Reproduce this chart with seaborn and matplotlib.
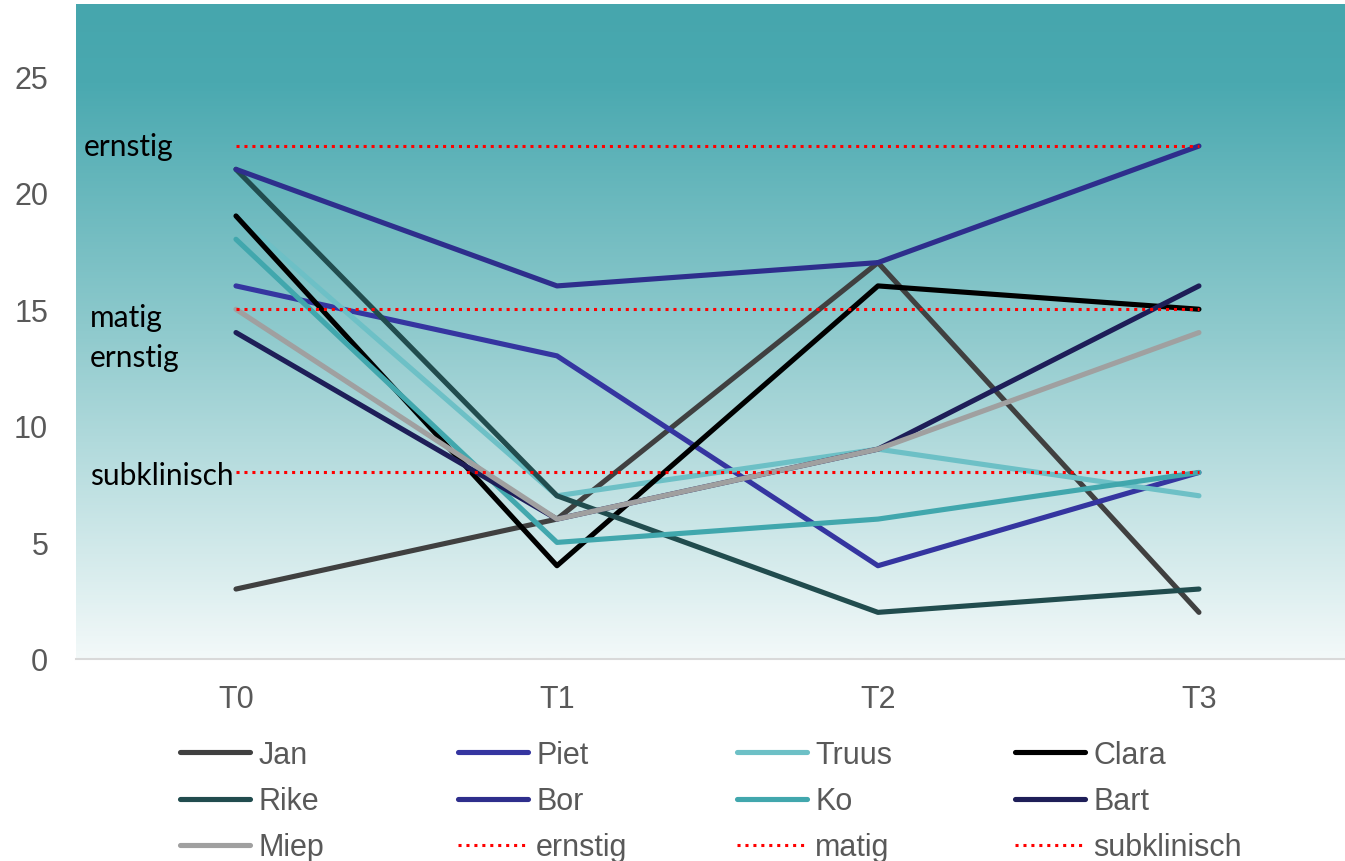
import numpy as np
import pandas as pd
import matplotlib
matplotlib.use("Agg")
import matplotlib.pyplot as plt
from matplotlib.colors import LinearSegmentedColormap
import seaborn as sns

# ---- data ----
tijden = ["T0", "T1", "T2", "T3"]
namen = ["Jan", "Piet", "Truus", "Clara", "Rike", "Bor", "Ko", "Bart", "Miep"]
jan = [3, 6, 17, 2]
piet = [16, 13, 4, 8]
truus = [19, 7, 9, 7]
clara = [19, 4, 16, 15]
rike = [21, 7, 2, 3]
bor = [21, 16, 17, 22]
ko = [18, 5, 6, 8]
bart = [14, 6, 9, 16]
miep = [15, 6, 9, 14]
scores = [jan, piet, truus, clara, rike, bor, ko, bart, miep]

grenzen = ["ernstig", "matig", "subklinisch"]
grens_waarden = [22, 15, 8]
grens_labels = ["ernstig", "matig\nernstig", "subklinisch"]

kleuren = ["#404040", "#3535A0", "#6DC0C6", "#000000", "#214C4E",
           "#2E2E8C", "#41A7AD", "#1E1E58", "#A0A0A0"]

# ---- long-form tables ----
rows = []
for naam, vals in zip(namen, scores):
    for i, v in enumerate(vals):
        rows.append({"naam": naam, "pos": i, "score": v})
df = pd.DataFrame(rows)

grows = []
for g, w in zip(grenzen, grens_waarden):
    for i in range(len(tijden)):
        grows.append({"grens": g, "pos": i, "score": w})
gdf = pd.DataFrame(grows)

# ---- figure ----
sns.set_theme(style="white")
plt.rcParams["font.family"] = ["Liberation Sans", "DejaVu Sans"]

W, H = 1345, 862
fig = plt.figure(figsize=(W / 100, H / 100), dpi=100)
ax = fig.add_axes([76 / W, (H - 660) / H, (W - 76) / W, 655 / H])

# gradient background
cmap = LinearSegmentedColormap.from_list(
    "bg", [(0.0, "#46A6AD"), (0.12, "#4AA9B0"), (0.5, "#8FCACD"), (1.0, "#F3F9F9")])
grad = np.linspace(0, 1, 512).reshape(-1, 1)
ax.imshow(grad, cmap=cmap, aspect="auto", extent=[0, 1, 0, 1],
          transform=ax.transAxes, zorder=0, origin="upper")

sns.lineplot(data=df, x="pos", y="score", hue="naam", hue_order=namen,
             palette=dict(zip(namen, kleuren)), linewidth=3.7, legend=False,
             sort=False, ax=ax, solid_capstyle="round", zorder=2)
sns.lineplot(data=gdf, x="pos", y="score", hue="grens", hue_order=grenzen,
             palette=dict(zip(grenzen, ["#FF0000"] * 3)), linewidth=2.2,
             linestyle=(0, (1, 1.6)), legend=False, sort=False, ax=ax, zorder=3)

ax.set_xlim(-0.4984, 3.455)
ax.set_ylim(0, 28.09)
ax.set_xticks(range(len(tijden)), tijden)
ax.set_yticks([0, 5, 10, 15, 20, 25])
ax.set_xlabel("")
ax.set_ylabel("")
ax.tick_params(axis="both", length=0, labelsize=22, labelcolor="#595959")
ax.tick_params(axis="y", pad=20)
ax.tick_params(axis="x", pad=18)
for s in ["top", "left", "right"]:
    ax.spines[s].set_visible(False)
ax.spines["bottom"].set_color("#D9D9D9")
ax.spines["bottom"].set_linewidth(1.5)
ax.grid(False)

# threshold labels
lab_x = [(84 - 236) / 321, (90 - 236) / 321, (90 - 236) / 321]
lab_y = [22, 13.8, 7.9]
for x, y, t in zip(lab_x, lab_y, grens_labels):
    ax.text(x, y, t, ha="left", va="center", fontsize=21.5, color="black",
            family=["Lato", "DejaVu Sans"], linespacing=1.5, zorder=4)

# legend: 4 columns with equal spacing, row-wise order
lines = ax.get_lines()
handles = lines[:len(namen)] + lines[len(namen):len(namen) + 3]
labels = namen + grenzen
order = [[0, 4, 8], [1, 5, 9], [2, 6, 10], [3, 7, 11]]
col_x = [180, 458, 737, 1015]
for cx, idx in zip(col_x, order):
    leg = fig.legend([handles[i] for i in idx], [labels[i] for i in idx],
                     loc="upper left", bbox_to_anchor=(cx / W, 1 - 741 / H),
                     frameon=False, fontsize=22, handlelength=2.3,
                     handletextpad=0.26, labelspacing=0.53, borderpad=0,
                     borderaxespad=0, labelcolor="#595959")

fig.savefig("out.png", dpi=100)
